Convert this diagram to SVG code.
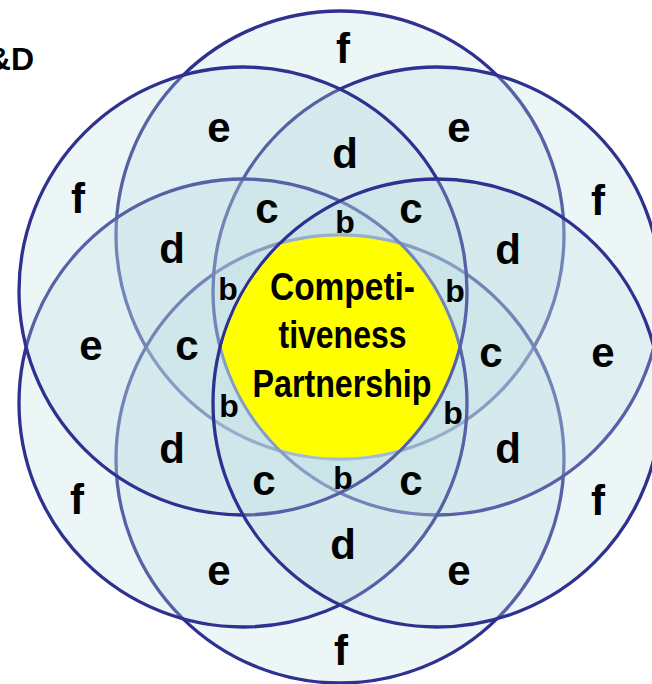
<svg xmlns="http://www.w3.org/2000/svg" width="652" height="684" viewBox="0 0 652 684">
<style>
.ring{fill:rgb(190,222,228);fill-opacity:0.28;stroke:#2e318f;stroke-width:3.3}
.lb{font-family:"Liberation Sans",Arial,sans-serif;font-weight:bold;font-size:42px;fill:#000;text-anchor:middle}
.sm{font-size:32px}
.ct{font-family:"Liberation Sans",Arial,sans-serif;font-weight:bold;font-size:38px;fill:#000;text-anchor:middle}
</style>
<rect width="652" height="684" fill="#fff"/>
<g id="connectors"/>
<g id="circles">
<g id="circle-top"><circle class="ring" cx="340" cy="235" r="224"/></g>
<g id="circle-bottom"><circle class="ring" cx="340" cy="459" r="224"/></g>
<g id="circle-upper-right"><circle class="ring" cx="437" cy="291" r="224"/></g>
<g id="circle-lower-left"><circle class="ring" cx="243" cy="403" r="224"/></g>
<g id="circle-upper-left"><circle class="ring" cx="243" cy="291" r="224"/></g>
<g id="circle-lower-right"><circle class="ring" cx="437" cy="403" r="224"/></g>
</g>
<g id="center">
<path fill="#ffff00" d="M458.2,347 A222.4,222.4 0 0 0 399.1,244.6 A222.4,222.4 0 0 0 280.9,244.6 A222.4,222.4 0 0 0 221.8,347 A222.4,222.4 0 0 0 280.9,449.4 A222.4,222.4 0 0 0 399.1,449.4 A222.4,222.4 0 0 0 458.2,347 Z"/>
<text class="ct" x="342.5" y="300" textLength="145" lengthAdjust="spacingAndGlyphs">Competi-</text>
<text class="ct" x="342.5" y="348" textLength="128" lengthAdjust="spacingAndGlyphs">tiveness</text>
<text class="ct" x="342" y="397" textLength="179" lengthAdjust="spacingAndGlyphs">Partnership</text>
</g>
<g id="labels">
<text class="lb" x="343" y="63">f</text>
<text class="lb" x="78" y="213">f</text>
<text class="lb" x="598" y="215">f</text>
<text class="lb" x="77" y="514">f</text>
<text class="lb" x="598" y="515">f</text>
<text class="lb" x="341" y="665">f</text>
<text class="lb" x="219" y="142">e</text>
<text class="lb" x="459" y="142">e</text>
<text class="lb" x="91" y="360">e</text>
<text class="lb" x="603" y="367">e</text>
<text class="lb" x="219" y="585">e</text>
<text class="lb" x="459" y="585">e</text>
<text class="lb" x="345" y="168">d</text>
<text class="lb" x="172" y="263">d</text>
<text class="lb" x="508" y="264">d</text>
<text class="lb" x="172" y="463">d</text>
<text class="lb" x="508" y="463">d</text>
<text class="lb" x="343" y="559">d</text>
<text class="lb" x="267" y="223">c</text>
<text class="lb" x="411" y="223">c</text>
<text class="lb" x="187" y="360">c</text>
<text class="lb" x="491" y="367">c</text>
<text class="lb" x="264" y="495">c</text>
<text class="lb" x="411" y="495">c</text>
<text class="lb sm" x="345" y="233">b</text>
<text class="lb sm" x="228" y="300">b</text>
<text class="lb sm" x="455" y="302">b</text>
<text class="lb sm" x="229" y="417">b</text>
<text class="lb sm" x="453" y="424">b</text>
<text class="lb sm" x="343" y="489">b</text>
</g>
<g id="title"><text x="34" y="70" style="font-family:'Liberation Sans',Arial,sans-serif;font-weight:bold;font-size:32px;fill:#000;text-anchor:end">&amp;D</text></g>
</svg>
